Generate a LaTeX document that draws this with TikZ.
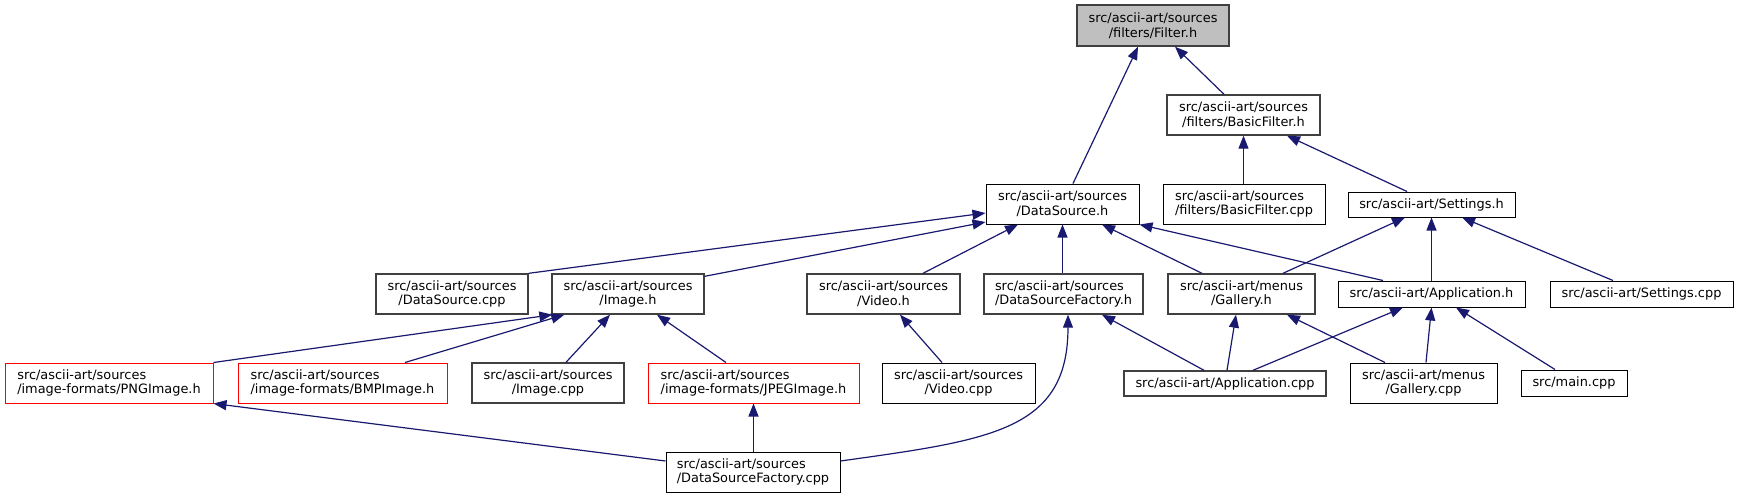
\documentclass[tikz,border=0pt]{standalone}
\usepackage{fontspec}
\setmainfont{DejaVu Sans}
\usetikzlibrary{arrows.meta}

\definecolor{IncEdgeBlue}{HTML}{191970}
\definecolor{IncGrey}{HTML}{404040}
\definecolor{IncFill}{HTML}{BFBFBF}

\tikzset{IncBox/.style={draw=black,line width=1pt,inner sep=0pt,align=center,
           font=\fontsize{12.9}{14.7}\selectfont},
         IncBoxGrey/.style={IncBox,draw=IncGrey,line width=1.4pt},
         IncBoxRed/.style={IncBox,draw=red,align=left},
         IncEdge/.style={draw=IncEdgeBlue,line width=1.2pt,
           {Triangle[length=13pt,width=10pt]}-}}

\begin{document}
\begin{tikzpicture}[x=1pt,y=-1pt]
  \useasboundingbox (0,0) rectangle (1738,499);
  % top of the graph
  \node[IncBoxGrey,fill=IncFill,minimum width=152,minimum height=41] (filter) at (1153,25.5)
    {src/ascii-art/sources\\/filters/Filter.h};
  \node[IncBoxGrey,minimum width=153,minimum height=40] (basicfilterh) at (1243.5,115)
    {src/ascii-art/sources\\/filters/BasicFilter.h};
  % second row
  \node[IncBox,minimum width=153,minimum height=40] (datasourceh) at (1062.5,204)
    {src/ascii-art/sources\\/DataSource.h};
  \node[IncBox,align=left,minimum width=162,minimum height=40] (basicfiltercpp) at (1244,204)
    {src/ascii-art/sources\\/filters/BasicFilter.cpp};
  \node[IncBox,minimum width=167,minimum height=25] (settingsh) at (1431.5,204.5)
    {src/ascii-art/Settings.h};
  % third row
  \node[IncBoxGrey,minimum width=152,minimum height=40] (datasourcecpp) at (452,294)
    {src/ascii-art/sources\\/DataSource.cpp};
  \node[IncBoxGrey,minimum width=152,minimum height=40] (imageh) at (628,294)
    {src/ascii-art/sources\\/Image.h};
  \node[IncBoxGrey,minimum width=153,minimum height=40] (videoh) at (883.5,294)
    {src/ascii-art/sources\\/Video.h};
  \node[IncBoxGrey,align=left,minimum width=159,minimum height=40] (dsfactoryh) at (1063.5,294)
    {src/ascii-art/sources\\/DataSourceFactory.h};
  \node[IncBoxGrey,minimum width=147,minimum height=40] (galleryh) at (1241.5,294)
    {src/ascii-art/menus\\/Gallery.h};
  \node[IncBox,minimum width=187,minimum height=26] (applicationh) at (1431.5,294)
    {src/ascii-art/Application.h};
  \node[IncBox,minimum width=183,minimum height=26] (settingscpp) at (1641.5,294)
    {src/ascii-art/Settings.cpp};
  % fourth row
  \node[IncBoxRed,minimum width=208,minimum height=40] (pngimage) at (109,383)
    {src/ascii-art/sources\\/image-formats/PNGImage.h};
  \node[IncBoxRed,minimum width=209,minimum height=40] (bmpimage) at (342.5,383)
    {src/ascii-art/sources\\/image-formats/BMPImage.h};
  \node[IncBoxGrey,minimum width=152,minimum height=40] (imagecpp) at (548,383)
    {src/ascii-art/sources\\/Image.cpp};
  \node[IncBoxRed,minimum width=211,minimum height=40] (jpegimage) at (753.5,383)
    {src/ascii-art/sources\\/image-formats/JPEGImage.h};
  \node[IncBox,minimum width=153,minimum height=40] (videocpp) at (958.5,383)
    {src/ascii-art/sources\\/Video.cpp};
  \node[IncBoxGrey,minimum width=202,minimum height=25] (appcpp) at (1225,383.5)
    {src/ascii-art/Application.cpp};
  \node[IncBox,minimum width=147,minimum height=40] (gallerycpp) at (1423.5,383)
    {src/ascii-art/menus\\/Gallery.cpp};
  \node[IncBox,minimum width=106,minimum height=26] (maincpp) at (1574,383)
    {src/main.cpp};
  % bottom
  \node[IncBox,align=left,minimum width=174,minimum height=40] (dsfactorycpp) at (753,472)
    {src/ascii-art/sources\\/DataSourceFactory.cpp};

  % include edges, arrow at the included file
  \draw[IncEdge] ([xshift=-15]filter.south) -- ([xshift=10.5]datasourceh.north);
  \draw[IncEdge] ([xshift=22]filter.south) -- ([xshift=-19.5]basicfilterh.north);
  \draw[IncEdge] (basicfilterh.south) -- (basicfilterh.south |- basicfiltercpp.north);
  \draw[IncEdge] ([xshift=43.5]basicfilterh.south) -- ([xshift=-24.5]settingsh.north);
  \draw[IncEdge] ([yshift=-9]datasourceh.west) -- (datasourcecpp.north east);
  \draw[IncEdge] ([yshift=-18]datasourceh.west) -- ([yshift=-3]imageh.north east);
  \draw[IncEdge] ([xshift=-44.5]datasourceh.south) -- ([xshift=39.5]videoh.north);
  \draw[IncEdge] (datasourceh.south) -- (datasourceh.south |- dsfactoryh.north);
  \draw[IncEdge] ([xshift=39.5]datasourceh.south) -- ([xshift=-39.5]galleryh.north);
  \draw[IncEdge] (datasourceh.south east) -- ([xshift=-48.5]applicationh.north);
  \draw[IncEdge] ([xshift=1]imageh.south west) -- (pngimage.north east);
  \draw[IncEdge] ([xshift=13]imageh.south west) -- ([xshift=62.5]bmpimage.north);
  \draw[IncEdge] ([xshift=-18]imageh.south) -- ([xshift=18]imagecpp.north);
  \draw[IncEdge] ([xshift=29]imageh.south) -- ([xshift=-27.5]jpegimage.north);
  \draw[IncEdge] ([xshift=16.5]videoh.south) -- ([xshift=-16.5]videocpp.north);
  \draw[IncEdge] (pngimage.south east) -- ([yshift=11]dsfactorycpp.west);
  \draw[IncEdge] (jpegimage.south) -- (jpegimage.south |- dsfactorycpp.north);
  \draw[IncEdge] ([xshift=4.5]dsfactoryh.south) .. controls +(0,116) and +(150,-21)
    .. ([yshift=11]dsfactorycpp.east);
  \draw[IncEdge] ([xshift=38.5]dsfactoryh.south) -- ([xshift=-21]appcpp.north);
  \draw[IncEdge] ([xshift=-5.5]galleryh.south) -- ([xshift=2]appcpp.north);
  \draw[IncEdge] ([xshift=45.5]galleryh.south) -- ([xshift=-38.5]gallerycpp.north);
  \draw[IncEdge] ([xshift=-26.5]settingsh.south) -- ([xshift=41.5]galleryh.north);
  \draw[IncEdge] (settingsh.south) -- (settingsh.south |- applicationh.north);
  \draw[IncEdge] ([xshift=30.5]settingsh.south) -- ([xshift=-28.5]settingscpp.north);
  \draw[IncEdge] ([xshift=-28.5]applicationh.south) -- ([xshift=28]appcpp.north);
  \draw[IncEdge] (applicationh.south) -- ([xshift=2.5]gallerycpp.north);
  \draw[IncEdge] ([xshift=24.5]applicationh.south) -- ([xshift=-19]maincpp.north);
\end{tikzpicture}
\end{document}
